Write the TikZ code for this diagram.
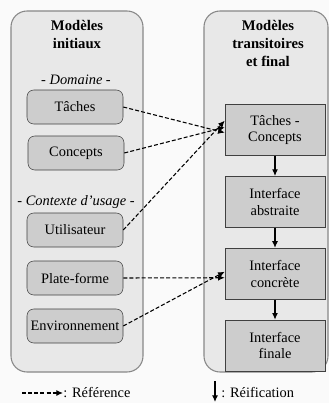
\documentclass[tikz,border=0pt]{standalone}
\usepackage{fontspec}
\setmainfont{Liberation Serif}
\usetikzlibrary{arrows.meta,positioning}
\definecolor{panelfill}{HTML}{E8E8E8}
\definecolor{panelline}{HTML}{888888}
\definecolor{boxfill}{HTML}{CDCDCD}

\begin{document}
\begin{tikzpicture}[x=0.75pt,y=-0.75pt,>={Latex[length=5pt,width=4.5pt]},node distance=15pt,font=\fontsize{10.8}{12.5}\selectfont]
  \tikzstyle{panel}=[draw=panelline,fill=panelfill,rounded corners=12pt,line width=0.8pt]
  \tikzstyle{source}=[draw=black!75,fill=boxfill,rounded corners=5pt,align=center,minimum width=72pt,minimum height=25.5pt,inner sep=1pt]
  \tikzstyle{model}=[draw=black!75,fill=boxfill,align=center,minimum width=75pt,minimum height=38.5pt,inner sep=1pt]
  \tikzstyle{title}=[align=center,font=\fontsize{11}{13.5}\selectfont\bfseries]
  \tikzstyle{group}=[font=\fontsize{10.8}{12.5}\selectfont\itshape]
  \tikzstyle{ref}=[->,dashed,dash pattern=on 3pt off 1.6pt,thick]
  \tikzstyle{reif}=[->,thick]
  \useasboundingbox (0,0) rectangle (329,403);
  \fill[white!98!black] (0,0) rectangle (329,403);
  % panels
  \draw[panel] (11,11) rectangle (143,372);
  \draw[panel] (204,11) rectangle (328,372);
  \node[title] (initiaux) at (77,34) {Modèles\\initiaux};
  \node[title] (transit) at (268,43) {Modèles\\transitoires\\et final};
  % initial models
  \node[group] (domaine) at (76,80) {- Domaine -};
  \node[source] (taches) at (75,107) {Tâches};
  \node[source] (concepts) at (76,153) {Concepts};
  \node[group] (contexte) at (76,202) {- Contexte d'usage -};
  \node[source] (user) at (75,230) {Utilisateur};
  \node[source] (platform) at (75,278) {Plate-forme};
  \node[source] (env) at (75,326) {Environnement};
  % transitional and final models
  \node[model] (tc) at (275,130) {Tâches -\\Concepts};
  \node[model,below=of tc] (abstract) {Interface\\abstraite};
  \node[model,below=of abstract] (concrete) {Interface\\concrète};
  \node[model,below=of concrete] (final) {Interface\\finale};
  \draw[reif] (tc) -- (abstract);
  \draw[reif] (abstract) -- (concrete);
  \draw[reif] (concrete) -- (final);
  \draw[ref] (taches.east) -- ([yshift=-2pt]tc.west);
  \draw[ref] (concepts.east) -- ([yshift=2pt]tc.west);
  \draw[ref] (user.east) -- ([yshift=7pt]tc.west);
  \draw[ref] (platform.east) -- ([yshift=-3pt]concrete.west);
  \draw[ref] (env.east) -- ([yshift=1.5pt]concrete.west);
  % legend
  \coordinate (refstart) at (22,393);
  \node[anchor=west,inner sep=0pt] (reflabel) at (63,393) {: Référence};
  \draw[ref] (refstart) -- (reflabel.west);
  \coordinate (reiftop) at (215,381);
  \coordinate (reifend) at (215,402);
  \draw[reif] (reiftop) -- (reifend);
  \node[anchor=west,inner sep=0pt] (reiflabel) at (221,393) {: Réification};
\end{tikzpicture}
\end{document}
